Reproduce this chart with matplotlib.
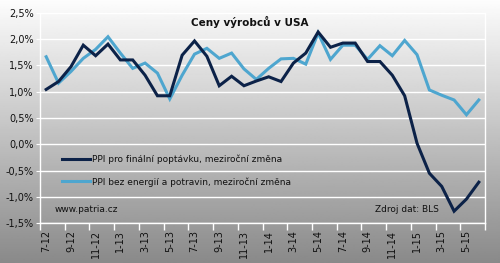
import numpy as np
import matplotlib
matplotlib.use("Agg")
import matplotlib.pyplot as plt
from matplotlib.ticker import FixedLocator

months = [f"{(6 + i) % 12 + 1}-{12 + (6 + i) // 12}" for i in range(36)]  # 7-12 .. 6-15

ppi_final = [1.04, 1.19, 1.47, 1.88, 1.68, 1.90, 1.60, 1.60, 1.31, 0.92, 0.92, 1.69,
             1.96, 1.67, 1.11, 1.29, 1.11, 1.20, 1.28, 1.19, 1.54, 1.73, 2.13, 1.84,
             1.92, 1.92, 1.57, 1.57, 1.31, 0.92, 0.02, -0.55, -0.80, -1.27, -1.04, -0.72]
ppi_core = [1.66, 1.16, 1.38, 1.63, 1.80, 2.04, 1.73, 1.44, 1.54, 1.35, 0.86, 1.31,
            1.71, 1.82, 1.63, 1.73, 1.43, 1.23, 1.44, 1.62, 1.63, 1.52, 2.11, 1.61,
            1.88, 1.88, 1.61, 1.87, 1.68, 1.97, 1.70, 1.03, 0.93, 0.84, 0.56, 0.84]

label_final = "PPI pro finální poptávku, meziroční změna"
label_core = "PPI bez energií a potravin, meziroční změna"
title = "Ceny výrobců v USA"
yticks = [-1.5, -1.0, -0.5, 0.0, 0.5, 1.0, 1.5, 2.0, 2.5]

W, H = 500, 263
fig = plt.figure(figsize=(W / 100, H / 100), dpi=100)

# background gradient
bg = fig.add_axes([0, 0, 1, 1], zorder=0)
grad = np.linspace(0.99, 0.54, 256).reshape(-1, 1)
bg.imshow(grad, aspect="auto", cmap="gray", vmin=0, vmax=1, extent=[0, 1, 0, 1])
bg.set_axis_off()

def fx(px):
    return px / W

def fy(py):
    return 1 - py / H

x0, x1, yt, yb = 40, 485, 12.5, 223.3
ax = fig.add_axes([fx(x0), fy(yb), fx(x1) - fx(x0), (yb - yt) / H], zorder=1)
ax.patch.set_alpha(0)

x = np.arange(len(months))
c_dark = "#0c2248"
c_light = "#4ea6cf"
ax.plot(x, ppi_final, color=c_dark, lw=2.2, label=label_final, zorder=4, solid_joinstyle="miter")
ax.plot(x, ppi_core, color=c_light, lw=2.2, label=label_core, zorder=3, solid_joinstyle="miter")

ax.set_xlim(-0.5, len(months) - 0.5)
ax.set_ylim(-1.5, 2.5)
ax.set_yticks(yticks)
ax.set_yticklabels([f"{v:.1f}".replace(".", ",") + "%" for v in yticks], fontsize=7, color="#111111")
ax.yaxis.grid(True, color="white", lw=1.0, zorder=1)
ax.tick_params(axis="y", length=3, color="white", pad=1.5)

ax.xaxis.set_major_locator(FixedLocator(x[::2]))
ax.set_xticklabels(months[::2], rotation=90, fontsize=7, color="#111111")
ax.xaxis.set_minor_locator(FixedLocator(np.arange(-0.5, len(months), 2)))
ax.tick_params(axis="x", which="major", length=0, pad=5)
ax.tick_params(axis="x", which="minor", length=5, color="white", width=1)

for s in ["left", "bottom", "right"]:
    ax.spines[s].set_color("white")
    ax.spines[s].set_linewidth(1.0)
ax.spines["top"].set_visible(False)

fig.text(fx(250), fy(22), title, fontsize=7.5, fontweight="bold", ha="center", va="center", color="#111111")

leg = ax.legend(loc="upper left", bbox_to_anchor=(fx(62), fy(154.5)), bbox_transform=fig.transFigure,
                frameon=False, fontsize=6.5, handlelength=3.1, handletextpad=0.25, labelspacing=1.45,
                borderpad=0, borderaxespad=0)
for t in leg.get_texts():
    t.set_color("#111111")

fig.text(fx(55), fy(210), "www.patria.cz", fontsize=6.5, ha="left", va="center", color="#111111")
fig.text(fx(439), fy(209.5), "Zdroj dat: BLS", fontsize=6.5, ha="right", va="center", color="#111111")

fig.savefig("out.png", dpi=100)
